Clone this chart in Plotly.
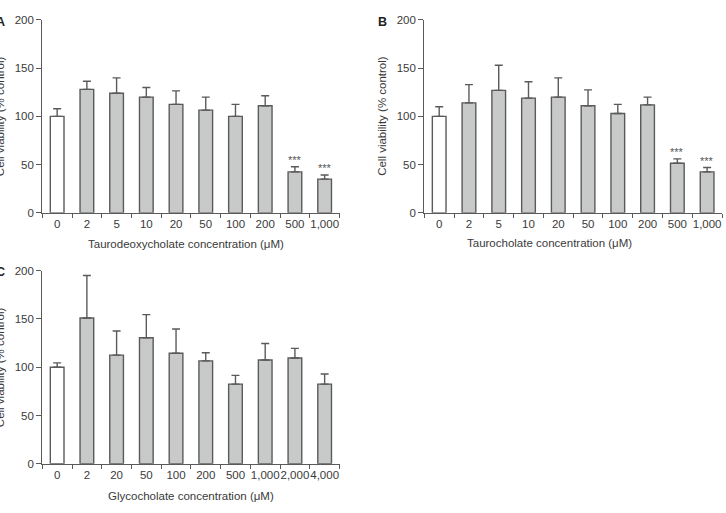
import plotly.graph_objects as go

W, H = 726, 513

# ---- data ----
cats_A = ["0", "2", "5", "10", "20", "50", "100", "200", "500", "1,000"]
mean_A = [100, 128, 124, 120, 112.5, 106.5, 100, 111, 42.5, 35]
top_A = [108, 136.5, 140, 130, 126.5, 120, 112.5, 121.5, 47.8, 39.2]
sig_A = ["", "", "", "", "", "", "", "", "***", "***"]

cats_B = ["0", "2", "5", "10", "20", "50", "100", "200", "500", "1,000"]
mean_B = [100, 114, 127, 119, 120, 111, 103, 112, 51.5, 42.5]
top_B = [110, 133, 153, 136, 140, 127.5, 112.5, 120, 56, 47]
sig_B = ["", "", "", "", "", "", "", "", "***", "***"]

cats_C = ["0", "2", "20", "50", "100", "200", "500", "1,000", "2,000", "4,000"]
mean_C = [100, 151, 112.5, 130.5, 114.5, 106.5, 82.5, 107.5, 109.5, 82.5]
top_C = [104.5, 195, 137.5, 154.5, 139.5, 115, 91.5, 124.5, 119.5, 93]
sig_C = [""] * 10

titles_x = ["Taurodeoxycholate concentration (\u03bcM)",
            "Taurocholate concentration (\u03bcM)",
            "Glycocholate concentration (\u03bcM)"]
title_y = "Cell viability (% control)"
panel_letters = ["A", "B", "C"]
y_ticks = [0, 50, 100, 150, 200]

# ---- styling ----
FONT = "Liberation Sans, Arial, sans-serif"
LINE = "#5a5a5a"
TXT = "#3a3a3a"
WHITE = "#ffffff"
GREY = "#c8c9c9"


def px_x(x):
    return x / W


def px_y(y):
    return 1 - y / H


# plot-area boxes in pixels: (x0, x1, y_top, y_bottom)
boxes = [(42.3, 339.5, 14.3, 211.8), (424.3, 722, 14.3, 211.8), (42.3, 339.5, 271, 468.7)]
xtitle_pos = [(186, 244), (549, 243), (191, 501.5)]
ytitle_pos = [(0.8, 113), (382.5, 113), (0.8, 370)]
letter_pos = [(0.5, 16), (383, 16), (0.5, 272)]

datasets = [(cats_A, mean_A, top_A, sig_A), (cats_B, mean_B, top_B, sig_B), (cats_C, mean_C, top_C, sig_C)]

fig = go.Figure()
annotations = []
layout = {}
for i, (cats, mean, top, sig) in enumerate(datasets):
    n = "" if i == 0 else str(i + 1)
    colors = [WHITE] + [GREY] * (len(cats) - 1)
    fig.add_trace(go.Bar(
        x=cats, y=mean, width=0.46,
        marker=dict(color=colors, line=dict(color=LINE, width=1.4)),
        error_y=dict(type="data", symmetric=False,
                     array=[t - m for t, m in zip(top, mean)],
                     arrayminus=[0] * len(mean),
                     color=LINE, thickness=1.4, width=4),
        xaxis="x" + n, yaxis="y" + n, showlegend=False,
    ))
    x0, x1, yt, yb = boxes[i]
    layout["xaxis" + n] = dict(
        domain=[px_x(x0), px_x(x1)], anchor="y" + n, type="category",
        range=[-0.5, len(cats) - 0.5], showline=True, linecolor=LINE, linewidth=1.2,
        ticks="outside", tickson="boundaries", ticklen=4, tickcolor=LINE, tickwidth=1,
        showgrid=False, zeroline=False, tickangle=0,
        tickfont=dict(family=FONT, size=11.5, color=TXT),
    )
    layout["yaxis" + n] = dict(
        domain=[px_y(yb), px_y(yt)], anchor="x" + n, range=[0, 200],
        tickvals=y_ticks, showline=True, linecolor=LINE, linewidth=1.2,
        ticks="outside", ticklen=5, tickcolor=LINE, tickwidth=1,
        showgrid=False, zeroline=False,
        tickfont=dict(family=FONT, size=11.5, color=TXT),
    )
    for j, (t, s) in enumerate(zip(top, sig)):
        if s:
            annotations.append(dict(
                x=j, y=t, xref="x" + n, yref="y" + n, text=s, showarrow=False,
                yanchor="bottom", yshift=-1, font=dict(family=FONT, size=11, color="#555")))
    tx, ty = xtitle_pos[i]
    annotations.append(dict(x=px_x(tx), y=px_y(ty), xref="paper", yref="paper",
                            text=titles_x[i], showarrow=False, xanchor="center", yanchor="middle",
                            font=dict(family=FONT, size=11.5, color=TXT)))
    tx, ty = ytitle_pos[i]
    annotations.append(dict(x=px_x(tx), y=px_y(ty), xref="paper", yref="paper",
                            text=title_y, showarrow=False, textangle=-90,
                            xanchor="center", yanchor="middle",
                            font=dict(family=FONT, size=11.5, color=TXT)))
    tx, ty = letter_pos[i]
    annotations.append(dict(x=px_x(tx), y=px_y(ty), xref="paper", yref="paper",
                            text="<b>%s</b>" % panel_letters[i], showarrow=False,
                            xanchor="center", yanchor="middle",
                            font=dict(family=FONT, size=12.5, color="#222")))

fig.update_layout(
    width=W, height=H, margin=dict(l=0, r=0, t=0, b=0),
    paper_bgcolor="white", plot_bgcolor="white",
    annotations=annotations, **layout,
)
fig.write_html("out.html")
